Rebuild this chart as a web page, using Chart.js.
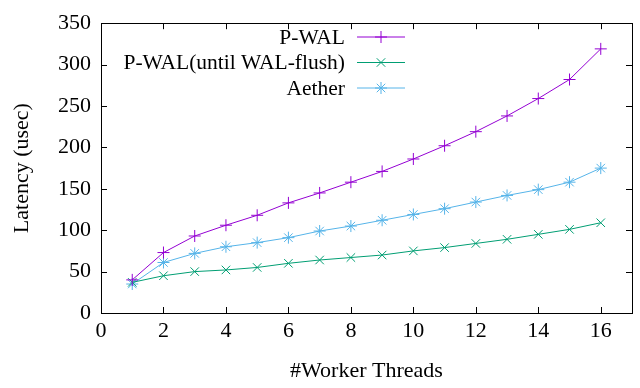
<!DOCTYPE html>
<html>
<head>
<meta charset="utf-8">
<script src="https://cdn.jsdelivr.net/npm/chart.js@4/dist/chart.umd.min.js"></script>
<style>
  html, body { margin: 0; padding: 0; background: #fff; }
  #wrap { width: 640px; height: 388px; }
</style>
</head>
<body>
<div id="wrap"><canvas id="latency"></canvas></div>
<script>
threads = [1, 2, 3, 4, 5, 6, 7, 8, 9, 10, 11, 12, 13, 14, 15, 16]
pwalData = [40, 73, 93, 106, 118, 133, 145, 158, 171, 186, 202, 219, 238, 259, 282, 319]
pwalFlushData = [37, 45, 50, 52, 55, 60, 64, 67, 70, 75, 79, 84, 89, 95, 101, 109]
aetherData = [35, 61, 72, 80, 85, 91, 99, 105, 112, 119, 126, 134, 142, 149, 158, 175]
seriesLabels = ['P-WAL', 'P-WAL(until WAL-flush)', 'Aether']
xTicks = [0, 2, 4, 6, 8, 10, 12, 14, 16]
yTicks = [0, 50, 100, 150, 200, 250, 300, 350]

var serif = "'Liberation Serif', 'Times New Roman', serif";

function toPoints(values) {
    return values.map(function (v, i) { return { x: threads[i], y: v }; });
}

var latencyDatasets = {
    datasets: [
        {
            label: seriesLabels[0],
            data: toPoints(pwalData),
            borderColor: '#9400d3',
            backgroundColor: '#9400d3',
            borderWidth: 1,
            pointStyle: 'cross',
            pointRadius: 6,
            pointBorderWidth: 1,
        },
        {
            label: seriesLabels[1],
            data: toPoints(pwalFlushData),
            borderColor: '#009e73',
            backgroundColor: '#009e73',
            borderWidth: 1,
            pointStyle: 'crossRot',
            pointRadius: 6,
            pointBorderWidth: 1,
        },
        {
            label: seriesLabels[2],
            data: toPoints(aetherData),
            borderColor: '#56b4e9',
            backgroundColor: '#56b4e9',
            borderWidth: 1,
            pointStyle: 'star',
            pointRadius: 6,
            pointBorderWidth: 1,
        }
    ]
}

// gnuplot style frame with ticks pointing inwards, plus the legend on the left of its samples
var gnuplotFrame = {
    id: 'gnuplotFrame',
    afterDraw: function (chart) {
        var ctx = chart.ctx;
        var a = chart.chartArea;
        var xs = chart.scales.x, ys = chart.scales.y;
        ctx.save();
        ctx.strokeStyle = '#000';
        ctx.lineWidth = 1;
        ctx.beginPath();
        xTicks.forEach(function (t) {
            var px = Math.round(xs.getPixelForValue(t)) + 0.5;
            ctx.moveTo(px, a.bottom); ctx.lineTo(px, a.bottom - 6);
            ctx.moveTo(px, a.top); ctx.lineTo(px, a.top + 6);
        });
        yTicks.forEach(function (t) {
            var py = Math.round(ys.getPixelForValue(t)) + 0.5;
            ctx.moveTo(a.left, py); ctx.lineTo(a.left + 6, py);
            ctx.moveTo(a.right, py); ctx.lineTo(a.right - 6, py);
        });
        ctx.stroke();
        ctx.strokeRect(Math.round(a.left) + 0.5, Math.round(a.top) + 0.5,
            Math.round(a.right - a.left), Math.round(a.bottom - a.top));

        // legend
        ctx.font = '21.5px ' + serif;
        ctx.textAlign = 'right';
        ctx.textBaseline = 'middle';
        chart.data.datasets.forEach(function (ds, i) {
            var y = 37 + i * 25.5;
            ctx.fillStyle = '#000';
            ctx.fillText(ds.label, 345, y + 1);
            ctx.strokeStyle = ds.borderColor;
            ctx.beginPath();
            ctx.moveTo(357, y); ctx.lineTo(405, y);
            ctx.stroke();
            Chart.helpers.drawPoint(ctx, {
                pointStyle: ds.pointStyle, radius: ds.pointRadius, borderWidth: 1, rotation: 0
            }, 381, y);
        });
        ctx.restore();
    }
}

var chartStyling = {
    responsive: false,
    animation: false,
    layout: {
        padding: { top: 19, right: 8, left: 0, bottom: 0 }
    },
    plugins: {
        legend: { display: false },
        tooltip: { enabled: false }
    },
    scales: {
        x: {
            type: 'linear',
            min: 0,
            max: 17,
            afterBuildTicks: function (scale) {
                scale.ticks = xTicks.map(function (v) { return { value: v }; });
            },
            afterFit: function (scale) { scale.height = 75; },
            grid: { display: false, drawTicks: false },
            border: { display: false },
            ticks: {
                color: '#000',
                padding: 5,
                maxRotation: 0,
                font: { family: serif, size: 22 }
            },
            title: {
                display: true,
                text: '#Worker Threads',
                color: '#000',
                padding: { top: 14 },
                font: { family: serif, size: 22 }
            }
        },
        y: {
            min: 0,
            max: 350,
            afterBuildTicks: function (scale) {
                scale.ticks = yTicks.map(function (v) { return { value: v }; });
            },
            afterFit: function (scale) { scale.width = 101; },
            grid: { display: false, drawTicks: false },
            border: { display: false },
            ticks: {
                color: '#000',
                padding: 10,
                font: { family: serif, size: 22 }
            },
            title: {
                display: true,
                text: 'Latency (usec)',
                color: '#000',
                padding: { top: 9, bottom: 4 },
                font: { family: serif, size: 22 }
            }
        }
    }
}

var canvas = document.getElementById('latency');
canvas.width = 640;
canvas.height = 388;
var ctx = canvas.getContext('2d');

var myChart = new Chart(ctx, {
    type: 'line',
    data: latencyDatasets,
    options: chartStyling,
    plugins: [gnuplotFrame]
})
</script>
</body>
</html>
